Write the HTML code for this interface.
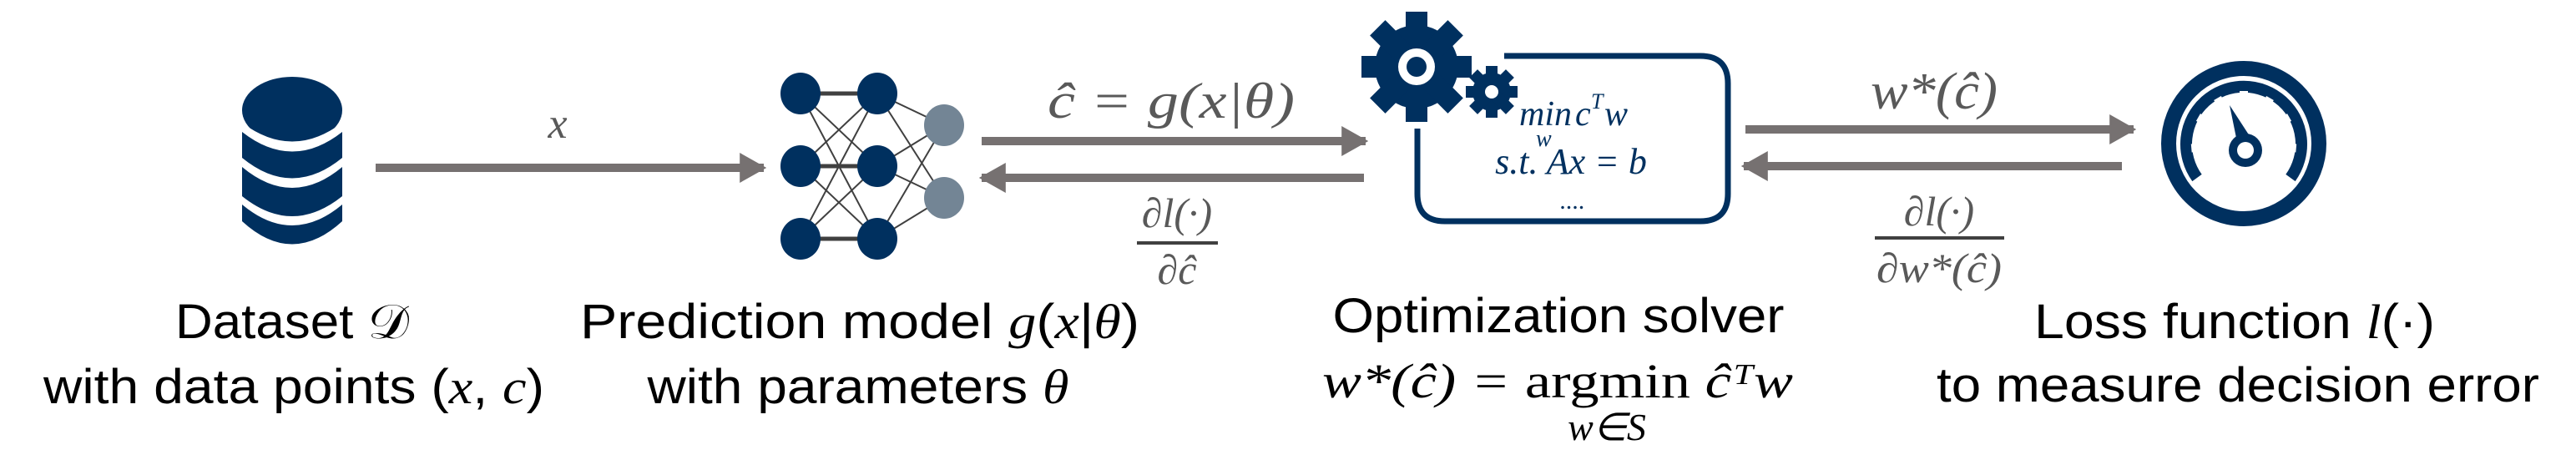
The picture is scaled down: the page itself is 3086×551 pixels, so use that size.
<!DOCTYPE html>
<html><head><meta charset="utf-8"><style>
html,body{margin:0;padding:0;background:#fff;}
svg{display:block;}
.lbl{font-family:"Liberation Sans",sans-serif;font-size:58px;fill:#000;}
.m{font-family:"Liberation Serif",serif;font-style:italic;}
.g{fill:#595959;}
.n{fill:#00305f;}
</style></head><body>
<svg width="3086" height="551" viewBox="0 0 3086 551" xmlns="http://www.w3.org/2000/svg">
<defs>
<marker id="ah" viewBox="0 0 10 10" refX="9" refY="5" markerWidth="3.2" markerHeight="3.6" preserveAspectRatio="none" orient="auto-start-reverse" markerUnits="strokeWidth"><path d="M0,0 L10,5 L0,10 z" fill="#767171"/></marker>
</defs>

<g fill="#00305f">
<ellipse cx="350" cy="132" rx="60" ry="40"/>
<rect x="290" y="158" width="120" height="80" fill="#00305f"/>
<path d="M290,158 Q350,205 410,158 L410,147 Q350,192 290,147Z" fill="#fff"/>
<path d="M290,200 Q350,250 410,200 L410,189 Q350,238 290,189Z" fill="#fff"/>
<path d="M290,238 L410,238 L410,265 Q350,320 290,265Z"/>
<path d="M290,245 Q350,295 410,245 L410,235 Q350,283 290,235Z" fill="#fff"/>
</g>

<line x1="450" y1="201" x2="915" y2="201" stroke="#767171" stroke-width="10" marker-end="url(#ah)"/>
<text class="m g" x="668" y="165" font-size="52" text-anchor="middle">x</text>

<g>
<g stroke="#404040" stroke-width="2">
<line x1="959" y1="112" x2="1051" y2="112" stroke-width="5"/><line x1="959" y1="199" x2="1051" y2="199" stroke-width="5"/><line x1="959" y1="286" x2="1051" y2="286" stroke-width="5"/>
<line x1="959" y1="112" x2="1051" y2="199"/><line x1="959" y1="112" x2="1051" y2="286"/>
<line x1="959" y1="199" x2="1051" y2="112"/><line x1="959" y1="199" x2="1051" y2="286"/>
<line x1="959" y1="286" x2="1051" y2="112"/><line x1="959" y1="286" x2="1051" y2="199"/>
<line x1="1051" y1="112" x2="1131" y2="150"/><line x1="1051" y1="112" x2="1131" y2="237"/>
<line x1="1051" y1="199" x2="1131" y2="150"/><line x1="1051" y1="199" x2="1131" y2="237"/>
<line x1="1051" y1="286" x2="1131" y2="150"/><line x1="1051" y1="286" x2="1131" y2="237"/>
</g>
<g fill="#00305f">
<ellipse cx="959" cy="112" rx="24" ry="25"/><ellipse cx="959" cy="199" rx="24" ry="25"/><ellipse cx="959" cy="286" rx="24" ry="25"/>
<ellipse cx="1051" cy="112" rx="24" ry="25"/><ellipse cx="1051" cy="199" rx="24" ry="25"/><ellipse cx="1051" cy="286" rx="24" ry="25"/>
</g>
<g fill="#738595"><ellipse cx="1131" cy="150" rx="24" ry="25"/><ellipse cx="1131" cy="237" rx="24" ry="25"/></g>
</g>

<line x1="1176" y1="169" x2="1636" y2="169" stroke="#767171" stroke-width="10" marker-end="url(#ah)"/>
<line x1="1634" y1="213" x2="1176" y2="213" stroke="#767171" stroke-width="10" marker-end="url(#ah)"/>
<text class="m g" x="1403" y="141" font-size="60" text-anchor="middle" textLength="296" lengthAdjust="spacingAndGlyphs">ĉ = g(x|θ)</text>
<g>
<text class="m g" x="1410" y="272" font-size="50" text-anchor="middle">∂l(·)</text>
<line x1="1362" y1="291" x2="1459" y2="291" stroke="#404040" stroke-width="4"/>
<text class="m g" x="1410" y="340" font-size="50" text-anchor="middle">∂ĉ</text>
</g>

<g>
<path d="M1802,67 L2037,67 Q2070,67 2070,100 L2070,232 Q2070,265 2037,265 L1731,265 Q1698,265 1698,232 L1698,154" fill="none" stroke="#00305f" stroke-width="7"/>
<text class="m n" x="1820" y="150" font-size="42" font-style="normal">min</text>
<text class="m n" x="1887" y="150" font-size="42">c</text>
<text class="m n" x="1906" y="130" font-size="26">T</text>
<text class="m n" x="1922" y="150" font-size="42">w</text>
<text class="m n" x="1840" y="175" font-size="28">w</text>
<text class="m n" x="1882" y="208" font-size="44" text-anchor="middle">s.t. Ax = b</text>
<text class="m n" x="1884" y="250" font-size="30" text-anchor="middle">....</text>
</g>
<g fill="#00305f">
<g transform="translate(1697,80)">
<circle r="50"/>
<rect x="-13" y="-66" width="26" height="132"/>
<rect x="-13" y="-66" width="26" height="132" transform="rotate(45)"/>
<rect x="-13" y="-66" width="26" height="132" transform="rotate(90)"/>
<rect x="-13" y="-66" width="26" height="132" transform="rotate(135)"/>
<circle r="22" fill="#fff"/><circle r="12"/>
</g>
<g transform="translate(1787,110)">
<circle r="30" fill="#fff"/>
<circle r="23"/>
<rect x="-7" y="-31" width="14" height="62"/>
<rect x="-7" y="-31" width="14" height="62" transform="rotate(45)"/>
<rect x="-7" y="-31" width="14" height="62" transform="rotate(90)"/>
<rect x="-7" y="-31" width="14" height="62" transform="rotate(135)"/>
<circle r="8" fill="#fff"/>
</g>
</g>

<line x1="2091" y1="155" x2="2556" y2="155" stroke="#767171" stroke-width="10" marker-end="url(#ah)"/>
<line x1="2542" y1="199" x2="2089" y2="199" stroke="#767171" stroke-width="10" marker-end="url(#ah)"/>
<text class="m g" x="2317" y="130" font-size="62" text-anchor="middle" textLength="152" lengthAdjust="spacingAndGlyphs">w*(ĉ)</text>
<g>
<text class="m g" x="2323" y="270" font-size="50" text-anchor="middle">∂l(·)</text>
<line x1="2246" y1="285" x2="2401" y2="285" stroke="#404040" stroke-width="4"/>
<text class="m g" x="2323" y="338" font-size="50" text-anchor="middle" textLength="150" lengthAdjust="spacingAndGlyphs">∂w*(ĉ)</text>
</g>

<g>
<circle cx="2688" cy="172" r="90" fill="none" stroke="#00305f" stroke-width="18"/>
<path d="M2632,213 A69,69 0 1 1 2744,213" fill="none" stroke="#00305f" stroke-width="14"/>
<g fill="#fff" transform="translate(2688,172)">
<rect x="-5" y="-63" width="10" height="9"/>
<rect x="-5" y="-63" width="10" height="9" transform="rotate(-30)"/>
<rect x="-5" y="-63" width="10" height="9" transform="rotate(-60)"/>
<rect x="-5" y="-63" width="10" height="9" transform="rotate(-95)"/>
<rect x="-5" y="-63" width="10" height="9" transform="rotate(30)"/>
<rect x="-5" y="-63" width="10" height="9" transform="rotate(60)"/>
<rect x="-5" y="-63" width="10" height="9" transform="rotate(95)"/>
</g>
<path d="M2671,126 L2697,166 L2680,170 Z" fill="#00305f"/>
<circle cx="2690" cy="180" r="20" fill="#00305f"/>
<circle cx="2690" cy="180" r="10" fill="#fff"/>
</g>

<text class="lbl" x="350" y="405" text-anchor="middle" textLength="280" lengthAdjust="spacingAndGlyphs">Dataset 𝒟</text>
<text class="lbl" x="352" y="483" text-anchor="middle" textLength="600" lengthAdjust="spacingAndGlyphs">with data points (<tspan class="m">x</tspan>, <tspan class="m">c</tspan>)</text>
<text class="lbl" x="1030" y="405" text-anchor="middle" textLength="670" lengthAdjust="spacingAndGlyphs">Prediction model <tspan class="m">g</tspan>(<tspan class="m">x</tspan>|<tspan class="m">θ</tspan>)</text>
<text class="lbl" x="1028" y="483" text-anchor="middle" textLength="505" lengthAdjust="spacingAndGlyphs">with parameters <tspan class="m">θ</tspan></text>
<text class="lbl" x="1867" y="398" text-anchor="middle" textLength="541" lengthAdjust="spacingAndGlyphs">Optimization solver</text>
<text class="lbl m" x="1866" y="476" text-anchor="middle" textLength="564" lengthAdjust="spacingAndGlyphs">w*(ĉ) = <tspan font-style="normal">argmin</tspan> ĉᵀw</text>
<text class="m" x="1925" y="527" font-size="46" text-anchor="middle">w∈S</text>
<text class="lbl" x="2677" y="405" text-anchor="middle" textLength="480" lengthAdjust="spacingAndGlyphs">Loss function <tspan class="m">l</tspan>(·)</text>
<text class="lbl" x="2681" y="481" text-anchor="middle" textLength="722" lengthAdjust="spacingAndGlyphs">to measure decision error</text>
</svg>
</body></html>
